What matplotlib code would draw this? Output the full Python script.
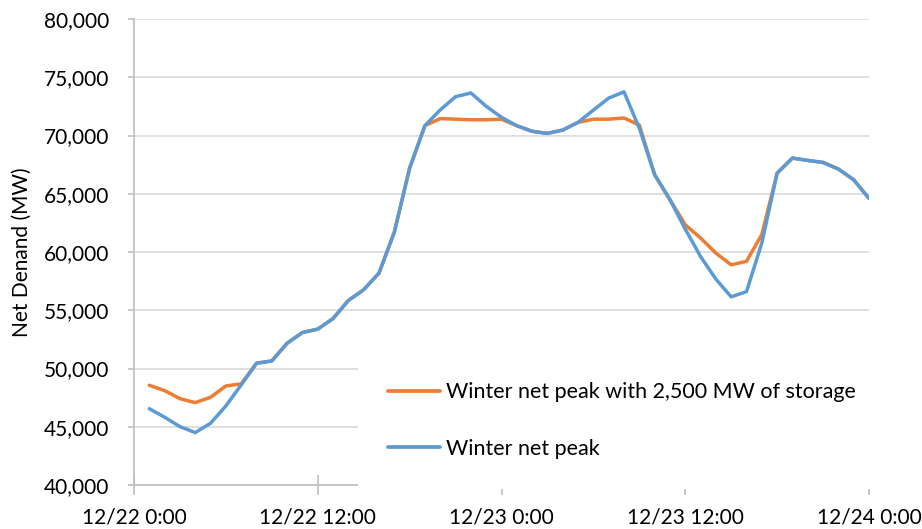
import matplotlib
matplotlib.use("Agg")
import matplotlib.pyplot as plt

plt.rcParams['font.family'] = ['Lato', 'DejaVu Sans']

hours = list(range(1, 49))

winter_net_peak = [
    46550, 45820, 45010, 44500, 45300, 46790, 48590, 50450, 50650, 52170,
    53090, 53380, 54290, 55840, 56760, 58190, 61700, 67200, 70850, 72200,
    73330, 73650, 72510, 71560, 70840, 70360, 70180, 70470, 71130, 72180,
    73210, 73750, 70630, 66640, 64490, 61970, 59610, 57670, 56150, 56600,
    60770, 66770, 68060, 67860, 67690, 67120, 66200, 64600,
]

winter_with_storage = [
    48560, 48100, 47410, 47070, 47530, 48500, 48680, 50450, 50650, 52170,
    53090, 53380, 54290, 55840, 56760, 58190, 61700, 67200, 70850, 71450,
    71400, 71350, 71350, 71400, 70840, 70360, 70180, 70470, 71130, 71400,
    71400, 71500, 70900, 66640, 64490, 62340, 61200, 59910, 58900, 59200,
    61500, 66770, 68060, 67860, 67690, 67120, 66200, 64600,
]

series_labels = ["Winter net peak with 2,500 MW of storage", "Winter net peak"]
x_tick_pos = [0, 12, 24, 36, 48]
x_tick_labels = ["12/22 0:00", "12/22 12:00", "12/23 0:00", "12/23 12:00", "12/24 0:00"]
y_ticks = list(range(40000, 80001, 5000))
y_label = "Net Denand (MW)"

fig = plt.figure(figsize=(9.22, 5.29), dpi=100)
ax = fig.add_axes([134/922, 1 - 485/529, 735/922, 466/529])

ax.plot(hours, winter_with_storage, color="#ED7D31", lw=2.5,
        solid_joinstyle="round", solid_capstyle="round", label=series_labels[0], zorder=3)
ax.plot(hours, winter_net_peak, color="#5B9BD5", lw=2.5,
        solid_joinstyle="round", solid_capstyle="round", label=series_labels[1], zorder=4)

ax.set_xlim(0, 48)
ax.set_ylim(40000, 80000)
ax.set_yticks(y_ticks)
ax.set_yticklabels([f"{v:,}" for v in y_ticks])
ax.set_xticks(x_tick_pos)
ax.set_xticklabels(x_tick_labels)

ax.grid(axis="y", color="#D9D9D9", lw=1.2)
ax.set_axisbelow(True)
for s in ["top", "right"]:
    ax.spines[s].set_visible(False)
for s in ["left", "bottom"]:
    ax.spines[s].set_color("#BFBFBF")
    ax.spines[s].set_linewidth(1.2)

ax.tick_params(axis="y", direction="out", length=4, color="#BFBFBF", width=1.2,
               labelsize=15, labelcolor="#000000", pad=14)
ax.tick_params(axis="x", direction="inout", length=14, color="#BFBFBF", width=1.2,
               labelsize=15, labelcolor="#000000", pad=9)

ax.set_ylabel(y_label, fontsize=15)
ax.yaxis.set_label_coords(-102/735, 0.5)

leg = ax.legend(loc="upper left", bbox_to_anchor=(0.305, 0.285), frameon=True,
                facecolor="white", edgecolor="none", framealpha=1, fontsize=15.5,
                handlelength=2.42, handletextpad=0.28, labelspacing=1.7,
                borderpad=1.4, borderaxespad=0)
for line in leg.get_lines():
    line.set_linewidth(2.7)
leg.set_zorder(5)

fig.savefig("out.png", dpi=100)
